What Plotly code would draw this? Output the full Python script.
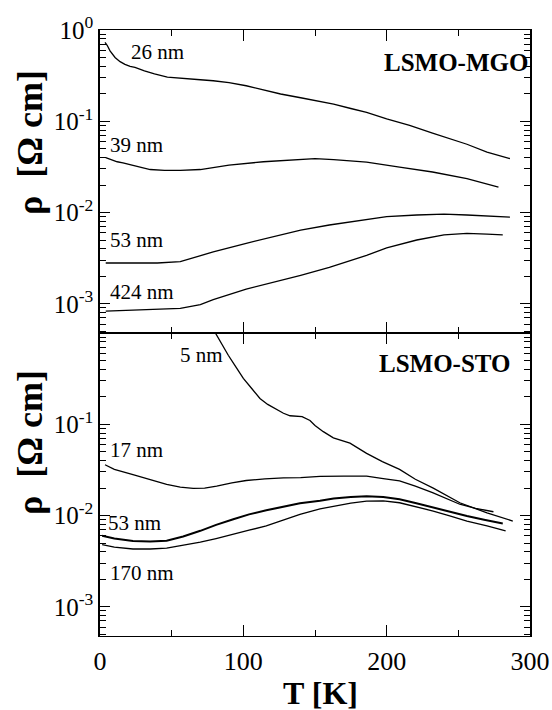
import math
import plotly.graph_objects as go
from plotly.subplots import make_subplots

# ---------------- data ----------------
# LSMO-MGO panel (top)
mgo26_T = [3.5, 5, 7, 10.5, 14, 17.4, 21, 24.4, 31, 38, 47, 56, 70, 79, 90, 102, 115, 126, 140, 150, 163, 175, 186, 200, 216, 232, 245, 256, 270, 286]
mgo26_r = [0.73, 0.68, 0.59, 0.50, 0.45, 0.42, 0.40, 0.39, 0.357, 0.33, 0.305, 0.295, 0.285, 0.278, 0.265, 0.245, 0.22, 0.199, 0.181, 0.168, 0.154, 0.138, 0.125, 0.106, 0.090, 0.074, 0.064, 0.056, 0.046, 0.039]

mgo39_T = [4, 8, 12, 16, 19, 25, 35, 45, 56, 70, 90, 114, 139, 150, 163, 186, 209, 232, 256, 278]
mgo39_r = [0.040, 0.038, 0.036, 0.035, 0.034, 0.032, 0.0296, 0.029, 0.029, 0.0296, 0.033, 0.036, 0.0385, 0.039, 0.038, 0.0357, 0.0315, 0.0278, 0.0235, 0.019]

mgo53_T = [4, 20, 40, 56, 70, 79, 102, 126, 140, 160, 186, 200, 221, 240, 256, 270, 286]
mgo53_r = [0.0028, 0.0028, 0.0028, 0.0029, 0.0034, 0.0037, 0.0046, 0.0057, 0.0064, 0.0073, 0.0083, 0.0090, 0.0094, 0.0096, 0.0094, 0.0091, 0.0089]

mgo424_T = [4, 35, 56, 70, 79, 102, 126, 140, 160, 186, 200, 221, 240, 256, 270, 281]
mgo424_r = [0.00083, 0.00087, 0.00089, 0.00098, 0.00111, 0.00145, 0.0018, 0.00205, 0.0025, 0.0034, 0.0041, 0.0050, 0.0057, 0.0059, 0.0058, 0.0057]

# LSMO-STO panel (bottom)
sto5_T = [79, 84, 89.5, 95, 100, 106, 111.6, 117, 123.3, 128, 132.6, 137, 141, 146.5, 150, 155.8, 162.8, 174.4, 186, 197, 209, 220, 232.5, 251, 270, 288]
sto5_r = [1.1, 0.80, 0.57, 0.42, 0.318, 0.245, 0.192, 0.165, 0.1435, 0.132, 0.124, 0.123, 0.121, 0.110, 0.097, 0.083, 0.071, 0.062, 0.048, 0.039, 0.032, 0.025, 0.020, 0.0138, 0.0107, 0.0087]

sto17_T = [3.5, 10, 23, 35, 46.5, 56, 65, 73, 81.4, 92, 102, 115, 128, 140, 153.5, 170, 186, 197.6, 209, 220, 232, 251, 262, 274.5]
sto17_r = [0.036, 0.032, 0.028, 0.0245, 0.0219, 0.0205, 0.0198, 0.0200, 0.0210, 0.0228, 0.0242, 0.0252, 0.0259, 0.0260, 0.0268, 0.0270, 0.0270, 0.0254, 0.0240, 0.0210, 0.0178, 0.0133, 0.0120, 0.0110]

sto53_T = [1.5, 10, 23, 35, 46.5, 58, 70, 81, 93, 104, 116, 130, 139.5, 153.5, 163, 175, 186, 197.6, 209, 220, 232.5, 244, 256, 268, 281]
sto53_r = [0.0060, 0.0056, 0.00527, 0.0052, 0.0053, 0.0059, 0.0068, 0.0079, 0.0091, 0.0103, 0.0114, 0.0128, 0.0136, 0.0145, 0.0154, 0.0160, 0.0163, 0.0160, 0.0151, 0.0137, 0.0122, 0.0110, 0.0099, 0.0090, 0.0082]

sto170_T = [1.5, 10, 23, 35, 46.5, 58, 70, 81, 93, 104, 116, 130, 139.5, 153.5, 163, 175, 186, 197.6, 209, 220, 232.5, 244, 256, 270, 283]
sto170_r = [0.0048, 0.0045, 0.0043, 0.0043, 0.0044, 0.0047, 0.0051, 0.0056, 0.0062, 0.0069, 0.0077, 0.0091, 0.0103, 0.0118, 0.0127, 0.0137, 0.0144, 0.0145, 0.0138, 0.0126, 0.0112, 0.0099, 0.0087, 0.0077, 0.0068]

x_tickvals = [0, 100, 200, 300]
x_ticktext = ["0", "100", "200", "300"]
y_tickvals = [1, 0.1, 0.01, 0.001]
y_ticktext_top = ["10<sup>0</sup>", "10<sup>-1</sup>", "10<sup>-2</sup>", "10<sup>-3</sup>"]
y_ticktext_bot = ["", "10<sup>-1</sup>", "10<sup>-2</sup>", "10<sup>-3</sup>"]
y_minor = [k * 10.0 ** e for e in (-4, -3, -2, -1) for k in range(2, 10)]

# label texts and their (T, rho) anchor positions
top_labels = [("26 nm", 40, 0.575), ("39 nm", 25.5, 0.055), ("53 nm", 25.5, 0.0050), ("424 nm", 29, 0.00135)]
bot_labels = [("5 nm", 71, 0.57), ("17 nm", 25.6, 0.052), ("53 nm", 24.4, 0.0082), ("170 nm", 29, 0.00235)]

FONT = "'Liberation Serif', 'Times New Roman', Tinos, Times, 'DejaVu Serif', serif"

fig = make_subplots(rows=2, cols=1, shared_xaxes=True, vertical_spacing=0.0)

for T, r in [(mgo26_T, mgo26_r), (mgo39_T, mgo39_r), (mgo53_T, mgo53_r), (mgo424_T, mgo424_r)]:
    fig.add_trace(go.Scatter(x=T, y=r, mode="lines", line=dict(color="black", width=1.3),
                             showlegend=False, hoverinfo="skip"), row=1, col=1)
for T, r, w in [(sto5_T, sto5_r, 1.3), (sto17_T, sto17_r, 1.3), (sto53_T, sto53_r, 2.0), (sto170_T, sto170_r, 1.3)]:
    fig.add_trace(go.Scatter(x=T, y=r, mode="lines", line=dict(color="black", width=w),
                             showlegend=False, hoverinfo="skip"), row=2, col=1)

xcommon = dict(range=[0, 300], tickmode="array", tickvals=x_tickvals, ticks="inside", ticklen=11, tickwidth=1.2,
               tickcolor="black", showline=True, linecolor="black", linewidth=1.2, mirror="ticks",
               showgrid=False, zeroline=False, automargin=False,
               minor=dict(tickmode="array", tickvals=[50, 150, 250], ticks="inside", ticklen=6, tickwidth=1.2,
                          tickcolor="black"))
fig.update_xaxes(**xcommon)
fig.update_xaxes(showticklabels=False, row=1, col=1)
fig.update_xaxes(ticktext=x_ticktext, showticklabels=True, tickfont=dict(family=FONT, size=26, color="black"),
                 ticklabelstandoff=2, row=2, col=1)

ycommon = dict(type="log", range=[-3.32, 0], tickmode="array", tickvals=y_tickvals, ticks="inside", ticklen=10,
               tickwidth=1.2, tickcolor="black", showline=True, linecolor="black", linewidth=1.5, mirror="ticks",
               showgrid=False, zeroline=False, automargin=False, tickfont=dict(family=FONT, size=25, color="black"),
               minor=dict(tickmode="array", tickvals=y_minor, ticks="inside", ticklen=6, tickwidth=1.2,
                          tickcolor="black"))
fig.update_yaxes(**ycommon)
fig.update_yaxes(ticktext=y_ticktext_top, row=1, col=1)
fig.update_yaxes(ticktext=y_ticktext_bot, row=2, col=1)

ann = []
for text, T, r in top_labels:
    ann.append(dict(text=text, x=T, y=math.log10(r), xref="x", yref="y", showarrow=False,
                    xanchor="center", yanchor="middle", font=dict(family=FONT, size=21, color="black")))
for text, T, r in bot_labels:
    ann.append(dict(text=text, x=T, y=math.log10(r), xref="x2", yref="y2", showarrow=False,
                    xanchor="center", yanchor="middle", font=dict(family=FONT, size=21, color="black")))
ann.append(dict(text="<b>LSMO-MGO</b>", x=1.0, y=0.947, xref="paper", yref="paper", xanchor="right",
                yanchor="middle", showarrow=False, font=dict(family=FONT, size=25, color="black")))
ann.append(dict(text="<b>LSMO-STO</b>", x=0.96, y=0.45, xref="paper", yref="paper", xanchor="right",
                yanchor="middle", showarrow=False, font=dict(family=FONT, size=25, color="black")))
for yp in (0.815, 0.32):
    ann.append(dict(text="<b>ρ  [Ω cm]</b>", x=-0.163, y=yp, xref="paper", yref="paper", textangle=-90,
                    xanchor="center", yanchor="middle", showarrow=False,
                    font=dict(family=FONT, size=36, color="black")))
ann.append(dict(text="<b>T [K]</b>", x=0.512, y=-0.094, xref="paper", yref="paper", showarrow=False,
                xanchor="center", yanchor="middle", font=dict(family=FONT, size=32, color="black")))

fig.update_layout(width=552, height=710, margin=dict(l=100, r=22, t=30, b=74, autoexpand=False),
                  plot_bgcolor="white", paper_bgcolor="white", annotations=ann)

fig.write_html("out.html")
